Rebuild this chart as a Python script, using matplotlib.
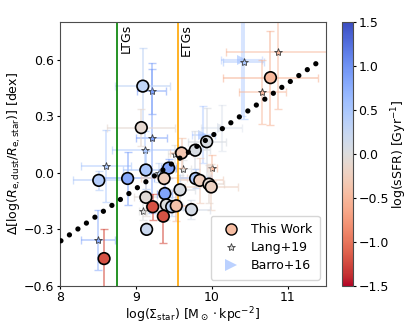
import matplotlib
matplotlib.use("Agg")
import matplotlib.pyplot as plt
import numpy as np
from matplotlib.lines import Line2D

# This Work
tw_x = [9.09, 9.07, 9.60, 9.78, 9.93, 10.77, 8.51, 8.89, 9.13, 9.43, 9.37, 9.785, 9.84,
        9.96, 9.99, 9.58, 9.73, 9.13, 9.38, 9.40, 9.47, 9.53, 9.22, 9.36, 9.14, 8.58]
tw_y = [0.46, 0.24, 0.105, 0.12, 0.165, 0.505, -0.04, -0.03, 0.015, 0.025, -0.03, -0.03, -0.04,
        -0.06, -0.075, -0.09, -0.195, -0.13, -0.11, -0.17, -0.18, -0.175, -0.18, -0.23, -0.30, -0.455]
tw_xerr = [0.36, 0.45, 0.15, 0.2, 0.25, 0.62, 0.34, 0.35, 0.3, 0.1, 0.3, 0.2, 0.3,
           0.2, 0.35, 0.2, 0.25, 0.15, 0.1, 0.2, 0.15, 0.2, 0.05, 0.05, 0.02, 0.0]
tw_yerr = [0.2, 0.1, 0.08, 0.1, 0.18, 0.25, 0.05, 0.14, 0.1, 0.05, 0.05, 0.05, 0.12,
           0.1, 0.12, 0.08, 0.05, 0.1, 0.1, 0.08, 0.05, 0.08, 0.07, 0.14, 0.02, 0.155]
tw_ssfr = [0.3, -0.1, -0.35, 0.05, 0.05, -0.5, 0.4, 0.8, 0.5, 0.85, -0.25, 0.45, -0.25,
           -0.1, -0.2, 0.05, 0.1, -0.05, 0.85, 0.0, 0.3, -0.4, -1.2, -1.2, 0.2, -1.2]

# Lang+19
lang_x = [9.205, 9.205, 9.12, 8.60, 9.52, 10.87, 10.42, 10.66, 8.50, 9.09, 9.62, 10.0, 9.30]
lang_y = [0.432, 0.185, 0.123, 0.035, 0.10, 0.64, 0.586, 0.428, -0.357, -0.20, 0.018, 0.026, 0.0]
lang_xerr = [0.19, 0.2, 0.44, 0.33, 0.1, 0.69, 0.27, 0.31, 0.22, 0.05, 0.1, 0.07, 0.1]
lang_yerr = [0.12, 0.4, 0.1, 0.19, 0.05, 0.3, 0.3, 0.17, 0.16, 0.05, 0.05, 0.07, 0.05]
lang_ssfr = [0.9, 0.9, 0.5, 0.5, 0.0, -0.5, 0.5, -0.5, 0.8, 0.0, 0.0, -0.5, 0.3]

# Barro+16
barro_x = [10.39, 10.13, 9.885]
barro_y = [0.60, 0.238, 0.203]
barro_xerr = [0.27, 0.27, 0.15]
barro_yerr = [0.3, 0.12, 0.15]
barro_ssfr = [0.6, 0.1, 0.6]

# relation and morphology limits
fit_x = [7.9, 11.45]
fit_slope = 0.28
fit_pivot = 9.3
ltg_lim = 8.75
etg_lim = 9.55

cmap = plt.get_cmap("coolwarm_r")
norm = matplotlib.colors.Normalize(vmin=-1.5, vmax=1.5)

fig = plt.figure(figsize=(4.11, 3.29), dpi=100)
ax = fig.add_axes([0.146, 0.131, 0.647, 0.802])
cax = fig.add_axes([0.833, 0.131, 0.026, 0.802])

# Barro+16
for x, y, xe, ye, s in zip(barro_x, barro_y, barro_xerr, barro_yerr, barro_ssfr):
    c = cmap(norm(s))
    ax.errorbar(x, y, xerr=xe, yerr=ye, fmt='none', ecolor=c, alpha=0.4, elinewidth=1.5, capsize=3)
    ax.plot(x, y, '>', color=c, alpha=0.6, markersize=7, markeredgewidth=0)

# Lang+19
for x, y, xe, ye, s in zip(lang_x, lang_y, lang_xerr, lang_yerr, lang_ssfr):
    c = cmap(norm(s))
    ax.errorbar(x, y, xerr=xe, yerr=ye, fmt='none', ecolor=c, alpha=0.55, elinewidth=1.2, capsize=3)
    ax.plot(x, y, '*', markerfacecolor=c, markeredgecolor='0.25', markeredgewidth=0.6, markersize=6)

# This Work
for x, y, xe, ye, s in zip(tw_x, tw_y, tw_xerr, tw_yerr, tw_ssfr):
    c = cmap(norm(s))
    ax.errorbar(x, y, xerr=xe, yerr=ye, fmt='none', ecolor=c, alpha=0.6, elinewidth=1.3, capsize=3)
ax.scatter(tw_x, tw_y, c=tw_ssfr, cmap=cmap, norm=norm, s=70, edgecolors='black',
           linewidths=1.2, zorder=5)

# dotted relation
fx = np.array(fit_x)
ax.plot(fx, fit_slope * (fx - fit_pivot), color='black', lw=3.8,
        linestyle=(0, (0.01, 1.95)), dash_capstyle='round', zorder=6)

ax.axvline(ltg_lim, color='green', lw=1.2)
ax.axvline(etg_lim, color='orange', lw=1.2)
ax.text(ltg_lim + 0.03, 0.79, 'LTGs', rotation=90, ha='left', va='top', fontsize=9)
ax.text(etg_lim + 0.03, 0.79, 'ETGs', rotation=90, ha='left', va='top', fontsize=9)

ax.set_xlim(8, 11.5)
ax.set_ylim(-0.6, 0.8)
ax.set_xticks([8, 9, 10, 11])
ax.set_yticks([-0.6, -0.3, 0.0, 0.3, 0.6])
ax.tick_params(labelsize=9, length=2.5, pad=1.5)
ax.set_xlabel(r'log($\Sigma_{\rm star}$) [M$_\odot\cdot$kpc$^{-2}$]', fontsize=9, labelpad=1)
ax.set_ylabel(r'$\Delta$[log($R_{\rm e,dust}/R_{\rm e,star}$)] [dex]', fontsize=9, labelpad=1)
for sp in ax.spines.values():
    sp.set_color('0.3')

handles = [
    Line2D([], [], marker='o', linestyle='none', markerfacecolor=cmap(norm(-0.45)),
           markeredgecolor='black', markersize=8),
    Line2D([], [], marker='*', linestyle='none', markerfacecolor='0.85',
           markeredgecolor='0.25', markeredgewidth=0.6, markersize=6),
    Line2D([], [], marker='>', linestyle='none', color=cmap(norm(0.6)), alpha=0.7,
           markersize=8, markeredgewidth=0),
]
ax.legend(handles, ['This Work', 'Lang+19', 'Barro+16'], loc='lower right', fontsize=9,
          handletextpad=0.6, borderpad=0.6, labelspacing=0.4)

sm = matplotlib.cm.ScalarMappable(norm=norm, cmap=cmap)
cb = fig.colorbar(sm, cax=cax)
cb.set_ticks([-1.5, -1.0, -0.5, 0.0, 0.5, 1.0, 1.5])
cb.ax.tick_params(labelsize=9, length=2.5, pad=1.5)
cb.set_label(r'log(sSFR) [Gyr$^{-1}$]', fontsize=9, labelpad=0)
cb.outline.set_edgecolor('0.3')

fig.savefig('out.png', dpi=100)
